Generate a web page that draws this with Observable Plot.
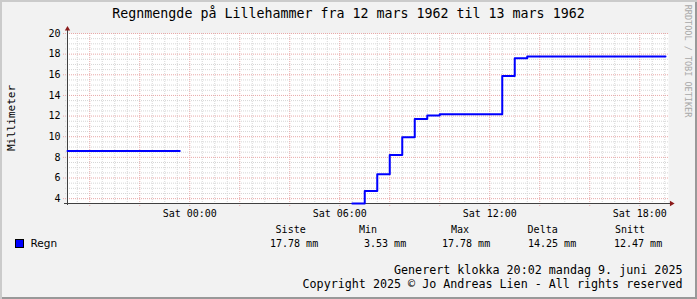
<!DOCTYPE html>
<html><head><meta charset="utf-8">
<script src="https://cdn.jsdelivr.net/npm/d3@7"></script>
<script src="https://cdn.jsdelivr.net/npm/@observablehq/plot@0.6"></script>
<style>
body{margin:0;}
#wrap{position:relative;width:697px;height:299px;background:#f2f2f2;box-shadow:inset 2px 2px 0 #cbcbcb, inset -2px -2px 0 #999;overflow:hidden;font-family:"DejaVu Sans Mono",monospace;color:#000}
.t{position:absolute;white-space:pre;line-height:1;}
#plot{position:absolute;left:0;top:0}
</style></head><body>
<div id="wrap"><div id="plot"></div></div>
<script>
const title = "Regnmengde på Lillehammer fra 12 mars 1962 til 13 mars 1962";
const yLabel = "Millimeter";
const watermark = "RRDTOOL / TOBI OETIKER";
const seriesName = "Regn";
// hours relative to Sat 00:00 and accumulated rain (mm)
const hours  = [-4.89, -0.4, 6.5, 7.0, 7.5, 8.0, 8.5, 9.0, 9.5, 10.0, 12.5, 13.0, 13.5, 19.03];
const values = [8.62, 8.62, 3.53, 4.74, 6.36, 8.23, 9.95, 11.72, 12.05, 12.18, 15.89, 17.61, 17.78, 17.78];
const segment = [1, 1, 2, 2, 2, 2, 2, 2, 2, 2, 2, 2, 2, 2];
const xDomain = [-4.89, 19.15];
const yDomain = [3.53, 20];
const xLabelTicks = [0, 6, 12, 18];
const xTickLabels = ["Sat 00:00", "Sat 06:00", "Sat 12:00", "Sat 18:00"];
const statNames = ["Siste", "Min", "Max", "Delta", "Snitt"];
const statValues = ["17.78 mm", " 3.53 mm", "17.78 mm", "14.25 mm", "12.47 mm"];
const footer1 = "Generert klokka 20:02 mandag 9. juni 2025";
const footer2 = "Copyright 2025 © Jo Andreas Lien - All rights reserved";

const data = hours.map((h, i) => ({h, v: values[i], s: segment[i]}));
const xMajor = d3.range(-4, 19.01, 2);
const xMinor = d3.range(-4.5, 19.01, 0.5).filter(d => !xMajor.includes(d));
const yMajor = d3.range(4, 20.01, 2);
const yMinor = d3.range(4, 20.01, 0.5).filter(d => !yMajor.includes(d));
const gridCol = "#d6d6d6", mgridCol = "#e8a8a8", axisCol = "#404040", arrowCol = "#8b1a1a";

const chart = Plot.plot({
  width: 697, height: 220,
  marginTop: 33, marginBottom: 17, marginLeft: 67, marginRight: 29,
  x: {domain: xDomain},
  y: {domain: yDomain},
  style: {fontFamily: "DejaVu Sans Mono", fontSize: "10px", background: "transparent", color: "#000", overflow: "visible"},
  marks: [
    Plot.frame({fill: "white", stroke: null}),
    Plot.ruleX(xMinor, {stroke: gridCol, strokeDasharray: "1,1", insetBottom: -2}),
    Plot.ruleY(yMinor, {stroke: gridCol, strokeDasharray: "1,1", insetLeft: -2}),
    Plot.ruleX(xMajor, {stroke: mgridCol, strokeDasharray: "1,1", insetBottom: -3}),
    Plot.ruleY(yMajor, {stroke: mgridCol, strokeDasharray: "1,1", insetLeft: -4}),
    Plot.axisY(yMajor, {tickSize: 0, tickPadding: 7, fill: "#000"}),
    Plot.axisX(xLabelTicks, {tickSize: 0, tickPadding: 6, fill: "#000", tickFormat: d => xTickLabels[xLabelTicks.indexOf(d)]}),
    Plot.ruleX([xDomain[0]], {stroke: axisCol, insetTop: -3, insetBottom: -2}),
    Plot.ruleY([yDomain[0]], {stroke: axisCol, insetLeft: -3, insetRight: -2}),
    Plot.line(data, {x: "h", y: "v", z: "s", curve: "step-after", stroke: "#0000ff", strokeWidth: 2}),
    Plot.dot([{x: xDomain[0], y: yDomain[1]}], {x: "x", y: "y", symbol: "triangle", r: 2, fill: arrowCol, stroke: null, dy: -4.5}),
    Plot.dot([{x: xDomain[1], y: yDomain[0]}], {x: "x", y: "y", symbol: "triangle", r: 2, fill: arrowCol, stroke: null, rotate: 90, dx: 3})
  ]
});
document.getElementById("plot").appendChild(chart);

const wrap = document.getElementById("wrap");
function addText(txt, css) {
  const d = document.createElement("div");
  d.className = "t";
  d.textContent = txt;
  Object.assign(d.style, css);
  wrap.appendChild(d);
  return d;
}
addText(title, {left: "0", width: "697px", textAlign: "center", top: "7px", fontSize: "13.3px"});
addText(yLabel, {left: "11px", top: "117.5px", fontSize: "11px", transform: "translate(-50%,-50%) rotate(-90deg)"});
addText(watermark, {left: "688px", top: "61px", fontSize: "8.5px", color: "#a8a8a8", transform: "translate(-50%,-50%) rotate(90deg)"});
// legend
const sq = document.createElement("div");
Object.assign(sq.style, {position: "absolute", left: "15px", top: "239px", width: "9px", height: "9px", background: "#0000ff", border: "1px solid #000", boxSizing: "border-box"});
wrap.appendChild(sq);
addText(seriesName, {left: "30.5px", top: "238.1px", fontSize: "10.5px", fontFamily: "'DejaVu Sans', sans-serif"});
const headLeft = [275.6, 359, 451, 527.6, 615];
const valLeft = [270, 358, 442, 528, 614];
statNames.forEach((s, i) => addText(s, {left: headLeft[i] + "px", top: "224.5px", fontSize: "10px"}));
statValues.forEach((s, i) => addText(s, {left: valLeft[i] + "px", top: "238.5px", fontSize: "10px"}));
addText(footer1, {right: "14.5px", top: "265px", fontSize: "11.7px"});
addText(footer2, {right: "14.5px", top: "279.3px", fontSize: "11.7px"});
</script>
</body></html>
